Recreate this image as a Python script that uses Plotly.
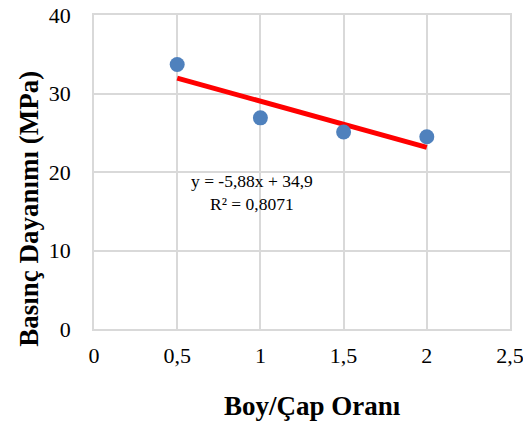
import plotly.graph_objects as go

ratio = [0.5, 1.0, 1.5, 2.0]
strength = [33.7, 26.9, 25.1, 24.5]
slope = -5.88
intercept = 34.9
r2_text = "0,8071"
x_ticks = [0, 0.5, 1, 1.5, 2, 2.5]
x_tick_labels = ["0", "0,5", "1", "1,5", "2", "2,5"]
y_ticks = [0, 10, 20, 30, 40]

trend_x = [ratio[0], ratio[-1]]
trend_y = [slope * v + intercept for v in trend_x]

font_family = "Liberation Serif, Times New Roman, serif"

fig = go.Figure()
fig.add_trace(go.Scatter(x=trend_x, y=trend_y, mode="lines",
                         line=dict(color="#ff0000", width=5), showlegend=False))
fig.add_trace(go.Scatter(x=ratio, y=strength, mode="markers",
                         marker=dict(color="#4f81bd", size=15), showlegend=False))

fig.add_annotation(x=0.948, y=17.4, xref="x", yref="y",
                   text="y = -5,88x + 34,9<br>R² = " + r2_text,
                   showarrow=False, align="center",
                   font=dict(family=font_family, size=17.5, color="black"))

fig.add_annotation(x=0.526, y=-0.245, xref="paper", yref="paper",
                   text="<b>Boy/Çap Oranı</b>", showarrow=False,
                   xanchor="center", yanchor="middle",
                   font=dict(family=font_family, size=27, color="black"))
fig.add_annotation(x=-0.1555, y=0.384, xref="paper", yref="paper",
                   text="<b>Basınç Dayanımı (MPa)</b>", showarrow=False,
                   textangle=-90, xanchor="center", yanchor="middle",
                   font=dict(family=font_family, size=27, color="black"))

grid = "#d9d9d9"
fig.update_layout(
    width=523, height=423,
    margin=dict(l=94, r=13, t=15, b=94),
    paper_bgcolor="white", plot_bgcolor="white",
    font=dict(family=font_family, color="black"),
    xaxis=dict(range=[0, 2.5], tickvals=x_ticks, ticktext=x_tick_labels,
               showgrid=True, gridcolor=grid, gridwidth=1.5, zeroline=False,
               showline=True, linecolor=grid, linewidth=1.5, mirror=True,
               ticks="", tickfont=dict(size=22), ticklabelstandoff=6,
               ticklabeloverflow="allow", automargin=False),
    yaxis=dict(range=[0, 40], tickvals=y_ticks,
               showgrid=True, gridcolor=grid, gridwidth=1.5, zeroline=False,
               showline=True, linecolor=grid, linewidth=1.5, mirror=True,
               ticks="", tickfont=dict(size=22), ticklabelstandoff=17,
               ticklabeloverflow="allow", automargin=False),
)

fig.write_html("out.html", config={"displayModeBar": False},
               post_script="document.body.style.margin='0';document.body.style.overflow='hidden';")
